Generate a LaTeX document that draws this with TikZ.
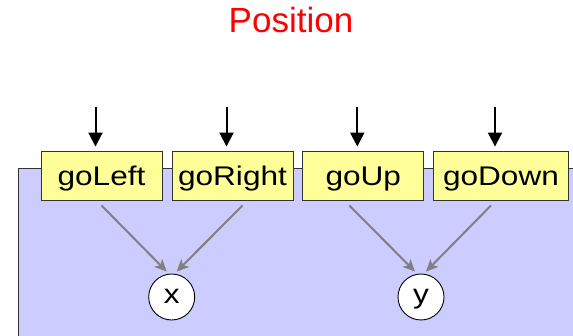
\documentclass[tikz,border=0pt]{standalone}
\usepackage{fontspec}
\setmainfont{Liberation Sans}
\usetikzlibrary{arrows.meta,calc}
\definecolor{panelblue}{HTML}{CCCCFF}
\definecolor{eventyellow}{HTML}{FFFF99}
\definecolor{linkgray}{HTML}{808080}
\tikzset{
  eventbox/.style={draw=black!80, line width=0.9pt, fill=eventyellow,
    minimum height=49pt, inner sep=0pt, text height=24pt, text depth=3pt,
    font=\fontsize{27}{32}\selectfont},
  varnode/.style={circle, draw=black, line width=0.9pt, fill=white,
    minimum size=46pt, inner sep=0pt, font=\fontsize{27}{32}\selectfont},
  inarrow/.style={draw=black, line width=2pt,
    -{Triangle[width=14pt,length=14pt]}},
  linkarrow/.style={draw=linkgray, line width=2pt,
    -{Stealth[width=11pt,length=12pt,inset=3pt]}},
}
\newcommand{\wide}[1]{\scalebox{1.17}[1]{#1}}
\begin{document}
\begin{tikzpicture}[x=1pt,y=-1pt]
\useasboundingbox (0,0) rectangle (573,336);
\clip (0,0) rectangle (573,336);
% module panel, running past the right and bottom edges
\draw[fill=panelblue, line width=0.9pt, draw=black!80] (18,168) rectangle (590,350);
% title
\node[text=red, font=\fontsize{35}{40}\selectfont, anchor=base] (title) at (291,33) {Position};
% event boxes
\node[eventbox, minimum width=121pt] (goLeft) at (101.5,175.5) {\wide{goLeft}};
\node[eventbox, minimum width=121pt] (goRight) at (232.5,175.5) {\wide{goRight}};
\node[eventbox, minimum width=121pt] (goUp) at (363.3,175.5) {\wide{goUp}\hspace{13pt}};
\node[eventbox, minimum width=135pt] (goDown) at (501,175.5) {\wide{goDown}\hspace{4pt}};
% state variables
\node[varnode, text height=17pt, text depth=3pt] (x) at (171.7,297) {\wide{x}};
\node[varnode, text height=17pt, text depth=3pt] (y) at (421,297) {\wide{y}};
% incoming events
\foreach \b in {goLeft,goRight,goUp,goDown}{
  \coordinate (\b-in) at ($(\b.north)+(-6,-44)$);
  \draw[inarrow] (\b-in) -- ($(\b.north)+(-6,-4)$);
}
% event to variable links
\draw[linkarrow] ($(goLeft.south)+(0,5)$) -- ($(x.north)+(-5,-2)$);
\draw[linkarrow] ($(goRight.south)+(10,5)$) -- ($(x.north)+(5,-2)$);
\draw[linkarrow] ($(goUp.south)+(-14,5)$) -- ($(y.north)+(-6,-2)$);
\draw[linkarrow] ($(goDown.south)+(-10,5)$) -- ($(y.north)+(5,-2)$);
\end{tikzpicture}
\end{document}
